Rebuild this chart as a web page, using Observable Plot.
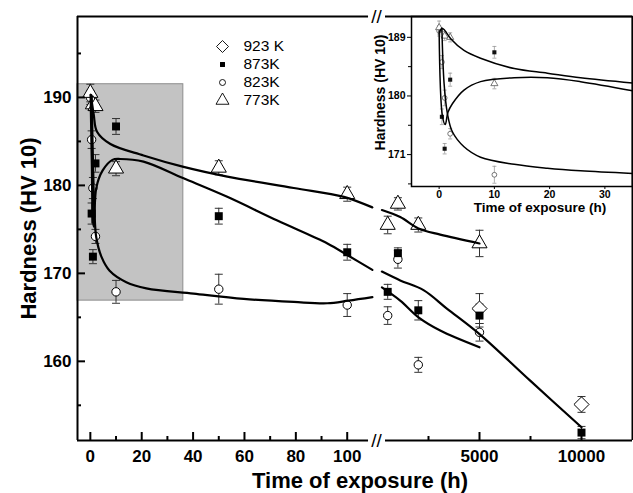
<!DOCTYPE html>
<html><head><meta charset="utf-8">
<script src="https://cdn.jsdelivr.net/npm/d3@7"></script>
<script src="https://cdn.jsdelivr.net/npm/@observablehq/plot@0.6"></script>
<style>
body{margin:0;background:#fff;}
#wrap{position:relative;width:633px;height:493px;}
#wrap svg{position:absolute;}
</style></head><body><div id="wrap"></div>
<script>
// ---------- data ----------
const seriesNames = ["923 K", "873K", "823K", "773K"];
const t923 = [5000, 10000];
const h923 = [166.0, 155.1];
const e923 = [1.7, 0.9];
const t873 = [0.5, 1, 2, 10, 50, 100, 500, 1000, 2000, 5000, 10000];
const h873 = [176.8, 171.9, 182.5, 186.7, 176.5, 172.4, 167.9, 172.3, 165.8, 165.2, 151.9];
const e873 = [1.2, 0.8, 1.0, 0.9, 0.9, 0.9, 0.85, 0.6, 1.1, 1.3, 0.7];
const t823 = [0, 0.5, 1, 2, 10, 50, 100, 500, 1000, 2000, 5000];
const h823 = [190.0, 185.2, 179.7, 174.2, 167.9, 168.2, 166.4, 165.2, 171.6, 159.6, 163.3];
const e823 = [0.8, 1.0, 1.2, 0.8, 1.3, 1.7, 1.3, 1.0, 1.0, 0.85, 1.0];
const t773 = [0, 1, 2, 10, 50, 100, 500, 1000, 2000, 5000];
const h773 = [190.5, 189.2, 189.0, 181.9, 182.0, 179.0, 175.5, 177.9, 175.5, 173.4];
const e773 = [1.0, 0.7, 0.7, 0.8, 0.8, 0.8, 1.0, 0.7, 0.8, 1.5];

// fitted curves (time, hardness), left part (<=100 h) and right part (after the break)
const fit773a = [[0.2,190.3],[1.3,188.1],[2.6,186.1],[7.8,184.7],[20.7,183.4],[36.3,182.1],[53.3,181.0],[79.2,179.7],[98.7,178.7],[109.8,177.5]];
const fit773b = [[216,177.2],[1113,176.4],[2010,175.1],[3074,174.4],[5000,173.4]];
const fit873a = [[0.1,190.3],[0.6,182.0],[1.0,176.0],[1.4,175.3],[2.3,179.7],[4.8,181.7],[8.6,182.9],[11.7,183.0],[20.7,182.7],[36.3,180.8],[53.3,178.7],[72.8,176.0],[92.3,173.4],[100.5,172.0],[109.8,170.4]];
const fit873b = [[216,170.2],[1113,169.2],[2255,168.1],[3400,166.0],[5000,163.1],[7485,157.8],[10000,152.5]];
const fit823a = [[0.5,190.2],[1.0,183.0],[1.6,177.0],[2.3,174.1],[4.3,171.9],[7.5,170.3],[14,169.0],[21.8,168.3],[40.2,167.7],[59.7,167.1],[79.2,166.75],[92.2,166.6],[100.5,166.9],[109.8,167.3]];
const fit823b = [[216,168.4],[1113,166.9],[2010,165.0],[3074,163.5],[5000,161.6]];

// inset fitted curves
const insetFit773 = [[0.1,189.8],[0.5,190.4],[1.0,190.1],[2.1,188.8],[4.5,187.0],[7.5,185.8],[13.6,184.2],[19.6,183.5],[25.6,182.8],[35,182.0]];
const insetFit873 = [[0,190.0],[0.6,176.9],[1.1,175.6],[1.6,177.5],[2.4,178.8],[4.5,180.9],[7.5,182.2],[13.6,182.8],[19.6,182.8],[25.6,182.2],[35,180.8]];
const insetFit823 = [[0.5,190.4],[0.9,181.9],[1.5,177.3],[2.4,174.5],[4.5,172.2],[7.5,170.6],[13.6,169.5],[19.6,168.9],[25.6,168.5],[35,168.1]];

// axes
const xTicksMajor = [0, 20, 40, 60, 80, 100, 5000, 10000];
const xTicksMinor = [10, 30, 50, 70, 90, 2500, 7500];
const yTicksMajor = [160, 170, 180, 190];
const yTicksMinor = [155, 165, 175, 185, 195];
const xDomain = [-5, 111.4, 147, 12500];     // broken axis: 0–100 h, then 100–12500 h
const yDomain = [151, 199.2];
const breakAt = 111.4;
const axisGap = [108.3, 392];
const shaded = [{x1: -5, x2: 36.2, y1: 166.9, y2: 191.5}];
const insetXTicks = [0, 10, 20, 30];
const insetYTicks = [171, 180, 189];
const insetYMinor = [166.5, 175.5, 184.5];
const insetXDomain = [-5, 35];
const insetYDomain = [166.1, 192.2];
const xTitle = "Time of exposure (h)";
const yTitle = "Hardness (HV 10)";

// ---------- build ----------
const rows = (t, h, e) => t.map((ti, i) => ({t: ti, h: h[i], e: e[i]}));
const d923 = rows(t923, h923, e923), d873 = rows(t873, h873, e873),
      d823 = rows(t823, h823, e823), d773 = rows(t773, h773, e773);
const font = "'Liberation Sans', Arial, Helvetica, sans-serif";
const cap = w => ({draw(ctx) { ctx.moveTo(-w, 0); ctx.lineTo(w, 0); }});

function errMarks(data, stroke, w, sw) {
  return [
    Plot.ruleX(data, {x: "t", y1: d => d.h - d.e, y2: d => d.h + d.e, stroke, strokeWidth: sw}),
    Plot.dot(data, {x: "t", y: d => d.h - d.e, symbol: cap(w), fill: "none", stroke, strokeWidth: sw}),
    Plot.dot(data, {x: "t", y: d => d.h + d.e, symbol: cap(w), fill: "none", stroke, strokeWidth: sw})
  ];
}
const fitLine = (pts, sw) => Plot.line(pts, {x: d => d[0], y: d => d[1], curve: "catmull-rom", stroke: "black", strokeWidth: sw});

const frameSegs = [];
for (const y of yDomain) { frameSegs.push({x1: xDomain[0], x2: axisGap[0], y}); frameSegs.push({x1: axisGap[1], x2: xDomain[3], y}); }

const main = Plot.plot({
  width: 633, height: 493,
  marginLeft: 77, marginRight: 1, marginTop: 16, marginBottom: 53,
  x: {type: "linear", domain: xDomain, range: [77, 376, 380, 632]},
  y: {type: "linear", domain: yDomain},
  style: {fontFamily: font, fontWeight: "bold", background: "white", color: "black", overflow: "visible"},
  marks: [
    Plot.rect(shaded, {x1: "x1", x2: "x2", y1: "y1", y2: "y2", fill: "#c3c3c3", stroke: "#8c8c8c", strokeWidth: 1}),
    ...errMarks(d923, "#333", 4, 1), ...errMarks(d823, "#333", 4, 1),
    ...errMarks(d773, "#333", 4, 1), ...errMarks(d873, "#333", 4, 1),
    Plot.dot(d923, {x: "t", y: "h", symbol: "diamond2", r: 6.8, fill: "white", stroke: "black", strokeWidth: 1}),
    Plot.dot(d823, {x: "t", y: "h", symbol: "circle", r: 4.2, fill: "white", stroke: "black", strokeWidth: 1}),
    Plot.dot(d773, {x: "t", y: "h", symbol: "triangle2", r: 7.2, fill: "white", stroke: "black", strokeWidth: 1}),
    Plot.dot(d873, {x: "t", y: "h", symbol: "square", r: 4.5, fill: "black"}),
    fitLine(fit773a, 2.2), fitLine(fit773b, 2.2),
    fitLine(fit873a, 2.2), fitLine(fit873b, 2.2),
    fitLine(fit823a, 2.2), fitLine(fit823b, 2.2),
    // frame with break
    Plot.ruleX([xDomain[0], xDomain[3]], {x: d => d, stroke: "black", strokeWidth: 2}),
    Plot.ruleY(frameSegs, {x1: "x1", x2: "x2", y: "y", stroke: "black", strokeWidth: 2}),
    Plot.text([yDomain[0], yDomain[1]], {x: () => breakAt, y: d => d, text: () => "//", fontSize: 19, fontWeight: "normal"}),
    // ticks (inward)
    Plot.tickX(xTicksMajor, {x: d => d, insetTop: 416, stroke: "black", strokeWidth: 2}),
    Plot.tickX(xTicksMinor, {x: d => d, insetTop: 420, stroke: "black", strokeWidth: 2}),
    Plot.tickY(yTicksMajor, {y: d => d, insetRight: 547, stroke: "black", strokeWidth: 2}),
    Plot.tickY(yTicksMinor, {y: d => d, insetRight: 551, stroke: "black", strokeWidth: 2}),
    Plot.axisX({ticks: xTicksMajor, tickSize: 0, tickPadding: 9, tickFormat: d3.format("d"), fontSize: 17, label: null}),
    Plot.axisY({ticks: yTicksMajor, tickSize: 0, tickPadding: 6, tickFormat: d3.format("d"), fontSize: 17, label: null}),
    Plot.text([yTitle], {frameAnchor: "left", dx: -49, rotate: -90, textAnchor: "middle", lineAnchor: "middle", text: d => d, fontSize: 22}),
    Plot.text([xTitle], {frameAnchor: "bottom", dx: 5, dy: 40, textAnchor: "middle", lineAnchor: "middle", text: d => d, fontSize: 22})
  ]
});
main.style.left = "0px"; main.style.top = "0px";

// ---------- inset ----------
const small = d => d.filter(r => r.t <= 10);
const inset = Plot.plot({
  width: 264, height: 202,
  marginLeft: 42, marginRight: 1, marginTop: 1, marginBottom: 31,
  x: {type: "linear", domain: insetXDomain},
  y: {type: "linear", domain: insetYDomain},
  style: {fontFamily: font, fontWeight: "bold", background: "transparent", color: "black", overflow: "visible"},
  marks: [
    ...errMarks(small(d823), "#999", 2, 0.8), ...errMarks(small(d773), "#999", 2, 0.8), ...errMarks(small(d873), "#999", 2, 0.8),
    Plot.dot(small(d823), {x: "t", y: "h", symbol: "circle", r: 2.4, fill: "white", stroke: "#555", strokeWidth: 0.8}),
    Plot.dot(small(d773), {x: "t", y: "h", symbol: "triangle2", r: 3.4, fill: "white", stroke: "#555", strokeWidth: 0.8}),
    Plot.dot(small(d873), {x: "t", y: "h", symbol: "square", r: 2.3, fill: "#111"}),
    fitLine(insetFit773, 1.5), fitLine(insetFit873, 1.5), fitLine(insetFit823, 1.5),
    Plot.frame({stroke: "black", strokeWidth: 1.5}),
    Plot.axisX({ticks: insetXTicks, tickSize: 3, tickPadding: 1, fontSize: 10.5, label: null}),
    Plot.axisY({ticks: insetYTicks, tickSize: 4, tickPadding: 2, fontSize: 10.5, label: null}),
    Plot.axisY({ticks: insetYMinor, tickSize: 3, tickFormat: () => "", label: null}),
    Plot.text([yTitle], {frameAnchor: "left", dx: -31, dy: -9, rotate: -90, textAnchor: "middle", lineAnchor: "middle", text: d => d, fontSize: 14}),
    Plot.text([xTitle], {frameAnchor: "bottom", dx: 18, dy: 21, textAnchor: "middle", lineAnchor: "middle", text: d => d, fontSize: 13.5})
  ]
});
inset.style.left = "369px"; inset.style.top = "15px";

// ---------- legend ----------
const legendSymbols = ["diamond2", "square", "circle", "triangle2"];
const legendR = [5.4, 2.8, 3, 6.2];
const legendFill = ["white", "black", "white", "white"];
const legendRows = seriesNames.map((name, i) => ({name, symbol: legendSymbols[i], r: legendR[i], fill: legendFill[i]}));
const legend = Plot.plot({
  width: 110, height: 86, margin: 0,
  y: {type: "point", domain: seriesNames, range: [15, 70], padding: 0, axis: null},
  style: {fontFamily: font, background: "transparent", color: "black", overflow: "visible"},
  marks: [
    ...legendRows.map(row => Plot.dot([row], {y: "name", frameAnchor: "left", dx: 22, symbol: row.symbol, r: row.r,
        fill: row.fill, stroke: row.fill === "black" ? "none" : "black", strokeWidth: 0.9})),
    Plot.text(legendRows, {y: "name", text: "name", frameAnchor: "left", dx: 43, textAnchor: "start", fontSize: 15.5})
  ]
});
legend.style.left = "200px"; legend.style.top = "30px";

const wrap = document.getElementById("wrap");
wrap.append(main, inset, legend);
</script></body></html>
